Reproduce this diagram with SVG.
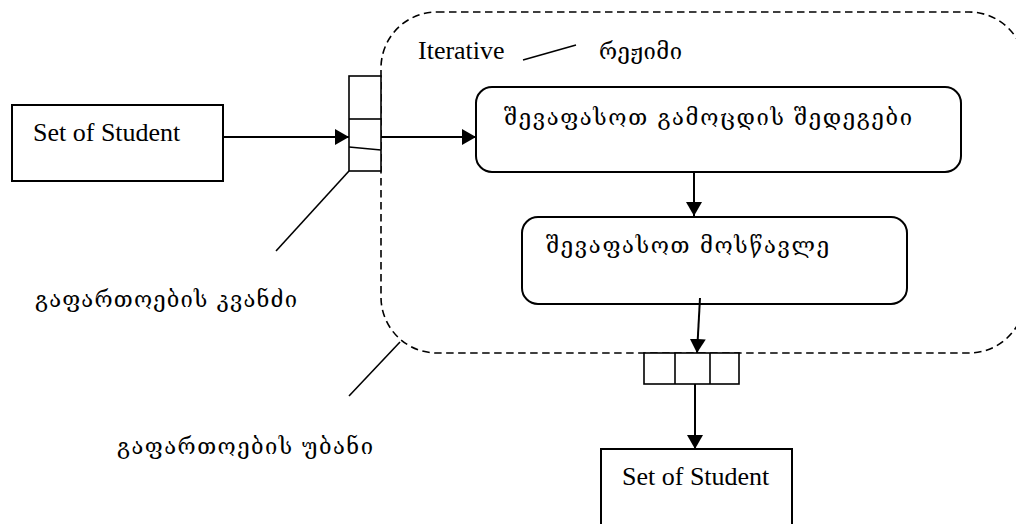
<svg xmlns="http://www.w3.org/2000/svg" width="1016" height="524" viewBox="0 0 1016 524">
  <style>
    .box { fill: #fff; stroke: #000; stroke-width: 2; }
    .pin { fill: #fff; stroke: #000; stroke-width: 1.6; }
    .region { fill: none; stroke: #000; stroke-width: 1.6; stroke-dasharray: 7.5 4.5; }
    .flow { fill: none; stroke: #000; stroke-width: 2; marker-end: url(#head); }
    .note { fill: none; stroke: #000; stroke-width: 1.6; }
    .lat { font-family: "Liberation Serif", "Times New Roman", serif; font-size: 26px; fill: #000; }
    .geo { font-family: "DejaVu Serif", "DejaVu Sans", serif; font-size: 22px; fill: #000; }
  </style>
  <defs>
    <marker id="head" markerUnits="userSpaceOnUse" markerWidth="15" markerHeight="16" refX="14" refY="8" orient="auto">
      <path d="M0,0 L14,8 L0,16 Z" fill="#000"/>
    </marker>
  </defs>

  <rect width="1016" height="524" fill="#fff"/>

  <!-- expansion region (dashed) -->
  <g id="expansion-region">
    <rect class="region" x="381" y="12" width="644" height="341" rx="56" ry="56"/>
    <text class="lat" x="418" y="59">Iterative</text>
    <line class="note" x1="523" y1="60" x2="576" y2="45"/>
    <text class="geo" x="599" y="59" textLength="83">რეჟიმი</text>
  </g>

  <!-- input collection -->
  <g id="input-set">
    <rect class="box" x="12" y="105" width="211" height="76"/>
    <text class="lat" x="33" y="141">Set of Student</text>
  </g>

  <!-- input expansion node -->
  <g id="input-node">
    <rect class="pin" x="349" y="76" width="32" height="95"/>
    <line class="pin" x1="349" y1="119" x2="381" y2="119"/>
    <line class="pin" x1="349" y1="147" x2="381" y2="150"/>
  </g>

  <!-- action: evaluate exam results -->
  <g id="action-results">
    <rect class="box" x="476" y="87" width="485" height="85" rx="16" ry="16"/>
    <text class="geo" x="504" y="125" textLength="408">შევაფასოთ  გამოცდის  შედეგები</text>
  </g>

  <!-- action: evaluate student -->
  <g id="action-student">
    <rect class="box" x="522" y="217" width="385" height="87" rx="16" ry="16"/>
    <text class="geo" x="546" y="253" textLength="283">შევაფასოთ  მოსწავლე</text>
  </g>

  <!-- output expansion node -->
  <g id="output-node">
    <rect class="pin" x="644" y="353" width="95" height="31"/>
    <line class="pin" x1="675" y1="353" x2="675" y2="384"/>
    <line class="pin" x1="710" y1="353" x2="710" y2="384"/>
  </g>

  <!-- output collection -->
  <g id="output-set">
    <rect class="box" x="601" y="449" width="191" height="110"/>
    <text class="lat" x="622" y="485">Set of Student</text>
  </g>

  <!-- labels for the pointer lines -->
  <g id="label-node">
    <text class="geo" x="35" y="307" textLength="262">გაფართოების  კვანძი</text>
  </g>
  <g id="label-region">
    <text class="geo" x="117" y="454" textLength="256">გაფართოების  უბანი</text>
  </g>

  <g id="connectors">
    <line class="flow" x1="223" y1="137" x2="349" y2="137"/>
    <line class="flow" x1="381" y1="137" x2="476" y2="137"/>
    <line class="flow" x1="694" y1="172" x2="694" y2="216"/>
    <line class="flow" x1="700" y1="298" x2="697" y2="353"/>
    <line class="flow" x1="695" y1="384" x2="695" y2="449"/>
    <line class="note" x1="349" y1="171" x2="276" y2="251"/>
    <line class="note" x1="400" y1="342" x2="349" y2="396"/>
  </g>
</svg>
